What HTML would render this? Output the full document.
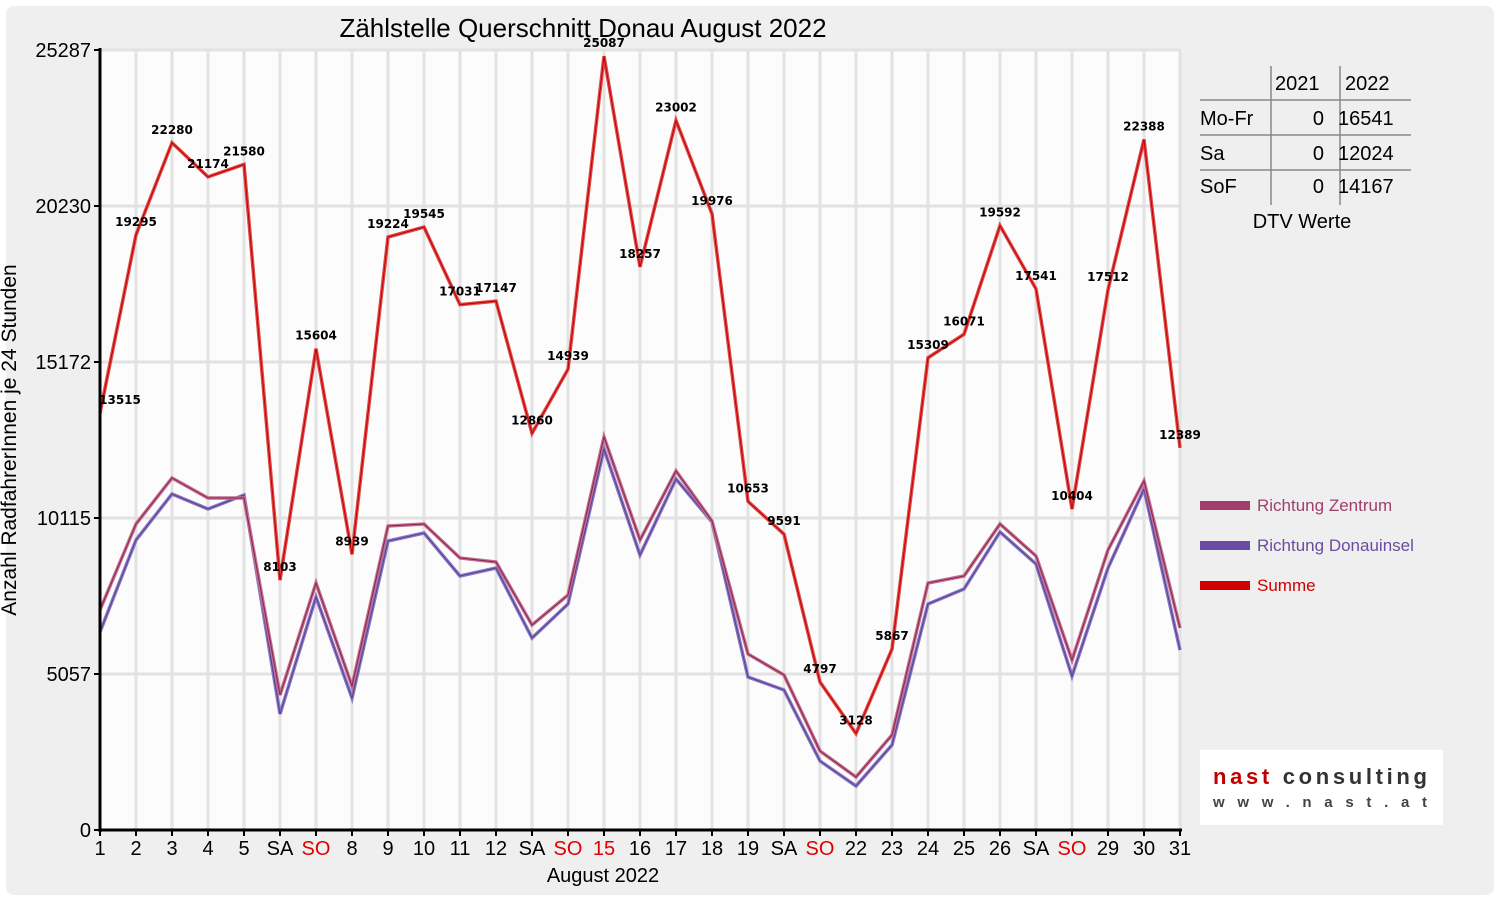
<!DOCTYPE html>
<html><head><meta charset="utf-8"><style>
body{margin:0;background:#fff;width:1500px;height:900px;overflow:hidden;font-family:"Liberation Sans",sans-serif}
</style></head><body>
<svg id="s" width="1500" height="900" xmlns="http://www.w3.org/2000/svg" font-family="Liberation Sans, sans-serif">
<rect x="6" y="6" width="1488" height="889" rx="8" fill="#efefef"/>
<rect x="100" y="50" width="1080" height="780" fill="#fcfcfc"/>
<g id="grid" stroke="#e2e2e2" stroke-width="3"></g>
<g id="ser"></g>
<g id="axes"></g>
<text x="583" y="37" font-size="26" text-anchor="middle">Zählstelle Querschnitt Donau August 2022</text>
<text transform="translate(16,440) rotate(-90)" font-size="21" text-anchor="middle">Anzahl RadfahrerInnen je 24 Stunden</text>
<text x="603" y="882" font-size="20" text-anchor="middle">August 2022</text>
<g font-size="20">
<line x1="1271" y1="66" x2="1271" y2="205" stroke="#888" stroke-width="1.5"/>
<line x1="1340" y1="66" x2="1340" y2="205" stroke="#888" stroke-width="1.5"/>
<line x1="1200" y1="100" x2="1411" y2="100" stroke="#888" stroke-width="1.5"/>
<line x1="1200" y1="135" x2="1411" y2="135" stroke="#888" stroke-width="1.5"/>
<line x1="1200" y1="170" x2="1411" y2="170" stroke="#888" stroke-width="1.5"/>
<text x="1275" y="90">2021</text><text x="1345" y="90">2022</text>
<text x="1200" y="125">Mo-Fr</text><text x="1324" y="125" text-anchor="end">0</text><text x="1338" y="125">16541</text>
<text x="1200" y="160">Sa</text><text x="1324" y="160" text-anchor="end">0</text><text x="1338" y="160">12024</text>
<text x="1200" y="193">SoF</text><text x="1324" y="193" text-anchor="end">0</text><text x="1338" y="193">14167</text>
<text x="1302" y="228" text-anchor="middle">DTV Werte</text>
</g>
<g font-size="17">
<rect x="1200" y="501" width="50" height="9" fill="#a0406a"/><text x="1257" y="511" fill="#a0406a">Richtung Zentrum</text>
<rect x="1200" y="541" width="50" height="9" fill="#6a4ca0"/><text x="1257" y="551" fill="#6a4ca0">Richtung Donauinsel</text>
<rect x="1200" y="581" width="50" height="9" fill="#d00000"/><text x="1257" y="591" fill="#d00000">Summe</text>
</g>
<rect x="1200" y="750" width="243" height="75" fill="#fff"/>
<text x="1320" y="784" font-size="22" font-weight="bold" text-anchor="middle" fill="#c00000" textLength="214">nast <tspan fill="#333">consulting</tspan></text>
<text x="1213" y="807" font-size="15" font-weight="bold" fill="#444" textLength="214" lengthAdjust="spacing">www.nast.at</text>
</svg>
<script>
const NS="http://www.w3.org/2000/svg";
function el(p,t,a,txt){const e=document.createElementNS(NS,t);for(const k in a)e.setAttribute(k,a[k]);if(txt!==undefined)e.textContent=txt;document.getElementById(p).appendChild(e);return e;}
const X=i=>100+36*i, Y=v=>830-v*780/25287;
for(let i=1;i<=30;i++)el("grid","line",{x1:X(i),y1:50,x2:X(i),y2:830});
[5057,10115,15172,20230,25287].forEach(v=>el("grid","line",{x1:100,y1:Y(v),x2:1180,y2:Y(v)}));
el("axes","line",{x1:100,y1:48,x2:100,y2:832,stroke:"#000","stroke-width":3});
el("axes","line",{x1:99,y1:830,x2:1182,y2:830,stroke:"#000","stroke-width":3});
[0,5057,10115,15172,20230,25287].forEach(v=>{el("axes","line",{x1:94,y1:Y(v),x2:100,y2:Y(v),stroke:"#000","stroke-width":2});el("axes","text",{x:91,y:Y(v)+7,"font-size":20,"text-anchor":"end"},v);});
const xl=["1","2","3","4","5","SA","SO","8","9","10","11","12","SA","SO","15","16","17","18","19","SA","SO","22","23","24","25","26","SA","SO","29","30","31"];
xl.forEach((t,i)=>{el("axes","line",{x1:X(i),y1:830,x2:X(i),y2:836,stroke:"#000","stroke-width":2});el("axes","text",{x:X(i),y:855,"font-size":20,"text-anchor":"middle",fill:(t=="SO"||t=="15")?"#e00000":"#000"},t);});
const z=[610,524,478,498,498,695,583,686,526,524,558,562,625,595,437,540,471,521,654,675,751,777,735,583,576,524,556,660,550,481,628];
const d=[632,540,494,509,495,714,597,698,541,533,576,568,638,604,449,555,479,522,677,690,761,786,745,604,589,532,564,676,568,489,650];
const s=[13515,19295,22280,21174,21580,8103,15604,8939,19224,19545,17031,17147,12860,14939,25087,18257,23002,19976,10653,9591,4797,3128,5867,15309,16071,19592,17541,10404,17512,22388,12389];
function line(ys,c1,c2){const p=ys.map((y,i)=>X(i)+","+y).join(" ");el("ser","polyline",{points:p,fill:"none",stroke:c1,"stroke-width":3.5});el("ser","polyline",{points:p,fill:"none",stroke:c2,"stroke-width":1});}
line(d,"#8a78c0","#5a3c98");
line(z,"#c07090","#902050");
line(s.map(Y),"#e04848","#c00000");
s.forEach((v,i)=>el("ser","text",{x:X(i)+(i==0?20:0),y:Y(v)-9,"font-size":12,"font-weight":"bold","font-family":"DejaVu Sans, sans-serif","text-anchor":"middle"},v));
</script>
</body></html>
